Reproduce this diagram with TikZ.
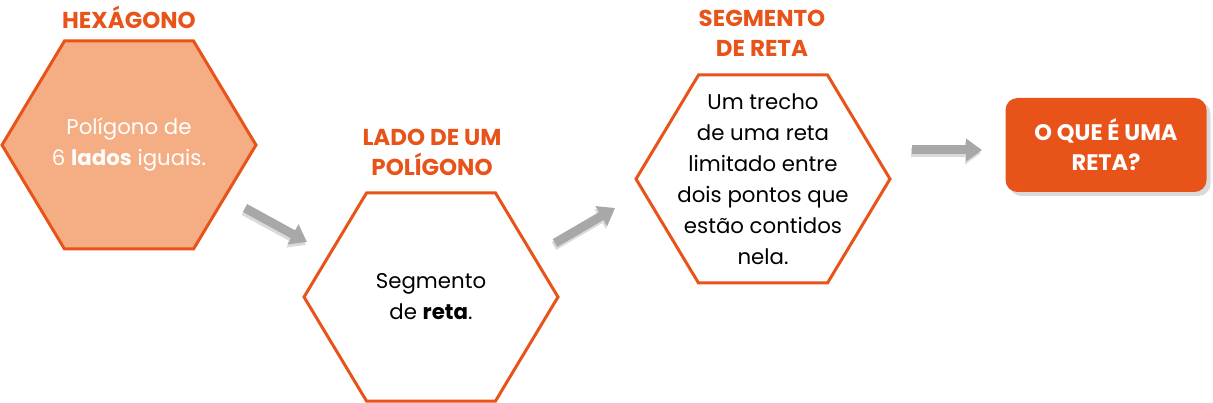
\documentclass[tikz,border=0pt]{standalone}
\usepackage{fontspec}
\setmainfont{Poppins}
\usetikzlibrary{arrows.meta}
\definecolor{orng}{HTML}{E8531A}
\definecolor{hexfill}{HTML}{F5AE83}
\definecolor{arrowgray}{HTML}{A8A8A8}
\definecolor{shadowgray}{HTML}{DADADA}
\newcommand\hexshape[2]{\draw[hex,#2] (#1) +(-127,0) -- +(-64.5,-104) -- +(64.5,-104) -- +(127,0) -- +(64.5,104) -- +(-64.5,104) -- cycle;}
\begin{document}
\begin{tikzpicture}[x=1pt,y=-1pt,
 hex/.style={draw=orng, line width=3pt, line join=miter},
 title/.style={text=orng, font=\fontsize{23}{30}\selectfont\bfseries, align=center, inner sep=0pt},
 body/.style={font=\fontsize{21.3}{31}\selectfont, align=center, text=black, inner sep=0pt},
 tipshape/.style={-{Triangle[width=22pt,length=16pt]}},
 blockarrow/.style={draw=arrowgray, line width=9pt, tipshape},
 arrowshadow/.style={draw=shadowgray, line width=9pt, tipshape},
 question/.style={fill=orng, rounded corners=12pt, minimum width=201pt, minimum height=94pt, text=white, align=center, font=\fontsize{22.5}{30}\selectfont\bfseries},
 qshadow/.style={fill=shadowgray, rounded corners=12pt, minimum width=201pt, minimum height=94pt},
]
\useasboundingbox (0,0) rectangle (1213,403);
% hexagon centres
\coordinate (c1) at (129,145);
\coordinate (c2) at (431,297);
\coordinate (c3) at (763,179);
\hexshape{c1}{fill=hexfill}
\hexshape{c2}{fill=white}
\hexshape{c3}{fill=white}
% titles
\node[title] (t1) at (129,17) {HEXÁGONO};
\node[title] (t2) at (432,152) {LADO DE UM\\POLÍGONO};
\node[title] (t3) at (762,33) {SEGMENTO\\DE RETA};
% texts
\node[body, text=white] (h1) at (c1) {Polígono de\\6 \textbf{lados} iguais.};
\node[body] (h2) at (c2) {Segmento\\de \textbf{reta}.};
\node[body] (h3) at (c3) {Um trecho\\de uma reta\\limitado entre\\dois pontos que\\estão contidos\\nela.};
% question box
\node[qshadow] (qs) at (1110,149) {};
\node[question] (q) at (1106,145) {O QUE É UMA\\RETA?};
% arrows
\coordinate (a1s) at (245,208);
\coordinate (a1e) at (307,242);
\coordinate (a2s) at (555,243);
\coordinate (a2e) at (615,208);
\coordinate (a3s) at (912,150);
\coordinate (a3e) at (982,150);
\foreach \s/\e in {a1s/a1e, a2s/a2e, a3s/a3e}{
  \draw[arrowshadow] ([shift={(-1,3)}]\s) -- ([shift={(-1,3)}]\e);
  \draw[blockarrow] (\s) -- (\e);
}
\end{tikzpicture}
\end{document}
